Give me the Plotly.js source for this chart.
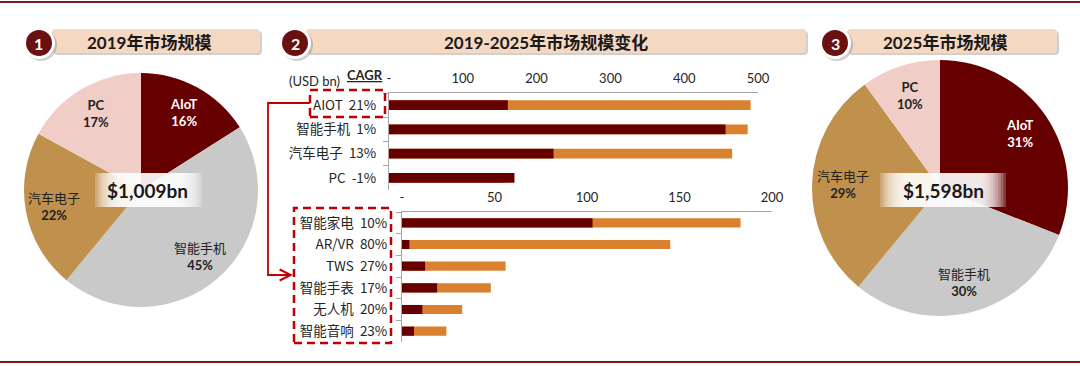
<!DOCTYPE html>
<html>
<head>
<meta charset="utf-8">
<script src="https://cdn.plot.ly/plotly-3.0.1.min.js"></script>
<style>html,body{margin:0;padding:0;background:#fff;}#chart{width:1080px;height:366px;}</style>
</head>
<body>
<div id="chart"></div>
<script>
// ---------- DATA ----------
const pieLabels = ['AIoT', '智能手机', '汽车电子', 'PC'];
const pie2019Share = [16, 45, 22, 17];
const pie2025Share = [31, 30, 29, 10];
const total2019 = '$1,009bn';
const total2025 = '$1,598bn';

const topCats = ['AIOT', '智能手机', '汽车电子', 'PC'];
const topCagr = ['21%', '1%', '13%', '-1%'];
const top2019 = [161, 456, 223, 170];
const top2025 = [490, 486, 465, 160];

const botCats = ['智能家电', 'AR/VR', 'TWS', '智能手表', '无人机', '智能音响'];
const botCagr = ['10%', '80%', '27%', '17%', '20%', '23%'];
const bot2019 = [103, 4, 12.5, 19, 11, 6.5];
const bot2025 = [183, 145, 56, 48, 32.5, 24];

const topTickVals = [0, 100, 200, 300, 400, 500];
const topTickText = ['-', '100', '200', '300', '400', '500'];
const botTickVals = [0, 50, 100, 150, 200];
const botTickText = ['-', '50', '100', '150', '200'];

// ---------- STYLE ----------
const W = 1080, H = 366;
const X = px => px / W;
const Y = py => 1 - py / H;
const FONT = "Lato, 'Noto Sans CJK SC', sans-serif";
const C_DARK = '#660000', C_ORANGE = '#d9812e', C_GRAY = '#c9c9c9', C_TAN = '#c0904d', C_PINK = '#f0cdc6';
const C_RED = '#c00000';
const pieColors = [C_DARK, C_GRAY, C_TAN, C_PINK];
const pieTextColors = ['#ffffff', '#222222', '#222222', '#222222'];

const topLabels = topCats.map((c, i) => c + '  ' + topCagr[i]);
const botLabels = botCats.map((c, i) => c + '  ' + botCagr[i]);

const pies = [
  {values: pie2019Share, cx: 141, cy: 190, r: 117},
  {values: pie2025Share, cx: 940, cy: 188, r: 128}
];

const traces = [];
pies.forEach(p => {
  traces.push({type: 'pie', labels: pieLabels, values: p.values, sort: false, direction: 'clockwise', rotation: 0,
    domain: {x: [X(p.cx - p.r), X(p.cx + p.r)], y: [Y(p.cy + p.r), Y(p.cy - p.r)]},
    marker: {colors: pieColors, line: {width: 0}}, textinfo: 'none', hoverinfo: 'skip'});
});
traces.push(
  {type: 'bar', orientation: 'h', y: topLabels, x: top2025, marker: {color: C_ORANGE}, width: 0.4,
   xaxis: 'x', yaxis: 'y', hoverinfo: 'skip'},
  {type: 'bar', orientation: 'h', y: topLabels, x: top2019, marker: {color: C_DARK}, width: 0.4,
   xaxis: 'x', yaxis: 'y', hoverinfo: 'skip'},
  {type: 'bar', orientation: 'h', y: botLabels, x: bot2025, marker: {color: C_ORANGE}, width: 0.42,
   xaxis: 'x2', yaxis: 'y2', hoverinfo: 'skip'},
  {type: 'bar', orientation: 'h', y: botLabels, x: bot2019, marker: {color: C_DARK}, width: 0.42,
   xaxis: 'x2', yaxis: 'y2', hoverinfo: 'skip'}
);

const tickFont = {family: FONT, size: 13, color: '#262626'};
const catFont = {family: "'Noto Sans CJK SC', Lato, sans-serif", size: 13.5, color: '#262626'};

function roundRect(x0, y0, x1, y1, r) {
  const f = (x, y) => X(x) + ',' + Y(y);
  return 'M' + f(x0 + r, y0) + ' L' + f(x1 - r, y0) + ' Q' + f(x1, y0) + ' ' + f(x1, y0 + r) +
    ' L' + f(x1, y1 - r) + ' Q' + f(x1, y1) + ' ' + f(x1 - r, y1) +
    ' L' + f(x0 + r, y1) + ' Q' + f(x0, y1) + ' ' + f(x0, y1 - r) +
    ' L' + f(x0, y0 + r) + ' Q' + f(x0, y0) + ' ' + f(x0 + r, y0) + ' Z';
}

const shapes = [];
const annotations = [];

// pie slice labels placed on each slice's mid-angle (from the data)
pies.forEach(p => {
  const tot = p.values.reduce((a, b) => a + b, 0);
  let cum = 0;
  p.values.forEach((v, i) => {
    const mid = (cum + v / 2) / tot * 2 * Math.PI;
    cum += v;
    const k = 0.76 * p.r;
    const lx = p.cx + k * Math.sin(mid), ly = p.cy - k * Math.cos(mid);
    const lab = pieLabels[i];
    const isLatin = /^[\x00-\x7f]+$/.test(lab);
    annotations.push({xref: 'paper', yref: 'paper', x: X(lx), y: Y(ly),
      text: (isLatin ? '<b>' + lab + '</b>' : lab) + '<br><b>' + v + '%</b>',
      showarrow: false, xanchor: 'center', yanchor: 'middle',
      font: {family: FONT, size: 13, color: pieTextColors[i]}});
  });
});

// frame lines
shapes.push({type: 'line', xref: 'paper', yref: 'paper', x0: 0, x1: 1, y0: Y(2), y1: Y(2), line: {color: '#7b1c1c', width: 2}});
shapes.push({type: 'line', xref: 'paper', yref: 'paper', x0: 0, x1: 1, y0: Y(362), y1: Y(362), line: {color: '#7b1c1c', width: 2}});

// headers
const headers = [
  {cx: 39, x0: 52, x1: 260, text: '2019年市场规模', tx: 149},
  {cx: 295, x0: 306, x1: 806, text: '2019-2025年市场规模变化', tx: 546},
  {cx: 835, x0: 847, x1: 1057, text: '2025年市场规模', tx: 945}
];
headers.forEach((h, i) => {
  shapes.push({type: 'path', xref: 'paper', yref: 'paper', path: roundRect(h.x0 + 2, 31, h.x1 + 2, 55, 4), fillcolor: 'rgba(120,120,120,0.35)', line: {width: 0}, layer: 'below'});
  shapes.push({type: 'path', xref: 'paper', yref: 'paper', path: roundRect(h.x0, 29, h.x1, 53, 4), fillcolor: '#f4d8c2', line: {width: 0}, layer: 'below'});
  shapes.push({type: 'circle', xref: 'paper', yref: 'paper', x0: X(h.cx - 16 + 2), x1: X(h.cx + 16 + 2), y0: Y(43 + 16 + 2), y1: Y(43 - 16 + 2), fillcolor: 'rgba(120,120,120,0.35)', line: {width: 0}});
  shapes.push({type: 'circle', xref: 'paper', yref: 'paper', x0: X(h.cx - 16), x1: X(h.cx + 16), y0: Y(43 + 16), y1: Y(43 - 16), fillcolor: '#ffffff', line: {width: 0}});
  shapes.push({type: 'circle', xref: 'paper', yref: 'paper', x0: X(h.cx - 13), x1: X(h.cx + 13), y0: Y(43 + 13), y1: Y(43 - 13), fillcolor: '#6a1010', line: {width: 0}});
  annotations.push({xref: 'paper', yref: 'paper', x: X(h.cx), y: Y(43), text: '<b>' + (i + 1) + '</b>', showarrow: false, font: {family: FONT, size: 16, color: '#fff'}, xanchor: 'center', yanchor: 'middle'});
  annotations.push({xref: 'paper', yref: 'paper', x: X(h.tx), y: Y(42), text: '<b>' + h.text + '</b>', showarrow: false, font: {family: FONT, size: 17, color: '#1a1a1a'}, xanchor: 'center', yanchor: 'middle'});
});

// center total boxes (white, fading at the sides)
function centerBox(x0, x1, y0, y1) {
  for (let s = 0; s < 10; s++) {
    shapes.push({type: 'rect', xref: 'paper', yref: 'paper', x0: X(x0 + s * 2.6), x1: X(x1 - s * 2.6), y0: Y(y1), y1: Y(y0),
      fillcolor: 'rgba(255,255,255,0.22)', line: {width: 0}});
  }
}
centerBox(95, 202, 173, 207);
centerBox(880, 1006, 173, 207);
annotations.push({xref: 'paper', yref: 'paper', x: X(147), y: Y(190), text: '<b>' + total2019 + '</b>', showarrow: false, font: {family: FONT, size: 19, color: '#1a1a1a'}, xanchor: 'center', yanchor: 'middle'});
annotations.push({xref: 'paper', yref: 'paper', x: X(943), y: Y(190), text: '<b>' + total2025 + '</b>', showarrow: false, font: {family: FONT, size: 19, color: '#1a1a1a'}, xanchor: 'center', yanchor: 'middle'});

// axis header texts
annotations.push({xref: 'paper', yref: 'paper', x: X(314), y: Y(81), text: '(USD bn)', showarrow: false, font: {family: FONT, size: 13, color: '#262626'}, xanchor: 'center', yanchor: 'middle'});
annotations.push({xref: 'paper', yref: 'paper', x: X(385), y: Y(75), text: '<b><u>CAGR</u></b>', showarrow: false, font: {family: FONT, size: 13, color: '#262626'}, xanchor: 'right', yanchor: 'middle'});

// dashed boxes
shapes.push({type: 'rect', xref: 'paper', yref: 'paper', x0: X(310), x1: X(385), y0: Y(117), y1: Y(90), line: {color: C_RED, width: 2.5, dash: '8px,5px'}});
shapes.push({type: 'rect', xref: 'paper', yref: 'paper', x0: X(294), x1: X(391), y0: Y(343), y1: Y(208), line: {color: C_RED, width: 2.5, dash: '8px,5px'}});
// connector
shapes.push({type: 'path', xref: 'paper', yref: 'paper', path: 'M' + X(310) + ',' + Y(103) + ' L' + X(268) + ',' + Y(103) + ' L' + X(268) + ',' + Y(275) + ' L' + X(288) + ',' + Y(275), line: {color: C_RED, width: 1.8}});
annotations.push({xref: 'paper', yref: 'paper', x: X(293), y: Y(275), ax: -14, ay: 0, text: '', showarrow: true, arrowhead: 5, arrowsize: 1.2, arrowwidth: 1.8, arrowcolor: C_RED});

const layout = {
  width: W, height: H,
  margin: {l: 0, r: 0, t: 0, b: 0},
  paper_bgcolor: '#ffffff', plot_bgcolor: 'rgba(0,0,0,0)',
  showlegend: false, barmode: 'overlay',
  font: {family: FONT},
  xaxis: {domain: [X(389), X(758)], range: [0, 500], side: 'top', anchor: 'y', showline: true, linecolor: '#a6a6a6', linewidth: 1,
          showgrid: false, zeroline: false, ticks: '', tickvals: topTickVals, ticktext: topTickText, tickfont: tickFont, ticklabelstandoff: 4, fixedrange: true},
  yaxis: {domain: [Y(190), Y(93)], anchor: 'x', autorange: 'reversed', type: 'category', showline: true, linecolor: '#a6a6a6', linewidth: 1,
          showgrid: false, ticks: 'outside', tickson: 'boundaries', ticklen: 5, tickcolor: '#a6a6a6', tickfont: catFont, ticklabelstandoff: 9, fixedrange: true},
  xaxis2: {domain: [X(402), X(772)], range: [0, 200], side: 'top', anchor: 'y2', showline: true, linecolor: '#a6a6a6', linewidth: 1,
          showgrid: false, zeroline: false, ticks: '', tickvals: botTickVals, ticktext: botTickText, tickfont: tickFont, ticklabelstandoff: 4, fixedrange: true},
  yaxis2: {domain: [Y(342), Y(212)], anchor: 'x2', autorange: 'reversed', type: 'category', showline: true, linecolor: '#a6a6a6', linewidth: 1,
          showgrid: false, ticks: 'outside', tickson: 'boundaries', ticklen: 5, tickcolor: '#a6a6a6', tickfont: catFont, ticklabelstandoff: 11, fixedrange: true},
  shapes: shapes,
  annotations: annotations
};

Plotly.newPlot('chart', traces, layout, {staticPlot: true, displayModeBar: false});
</script>
</body>
</html>
